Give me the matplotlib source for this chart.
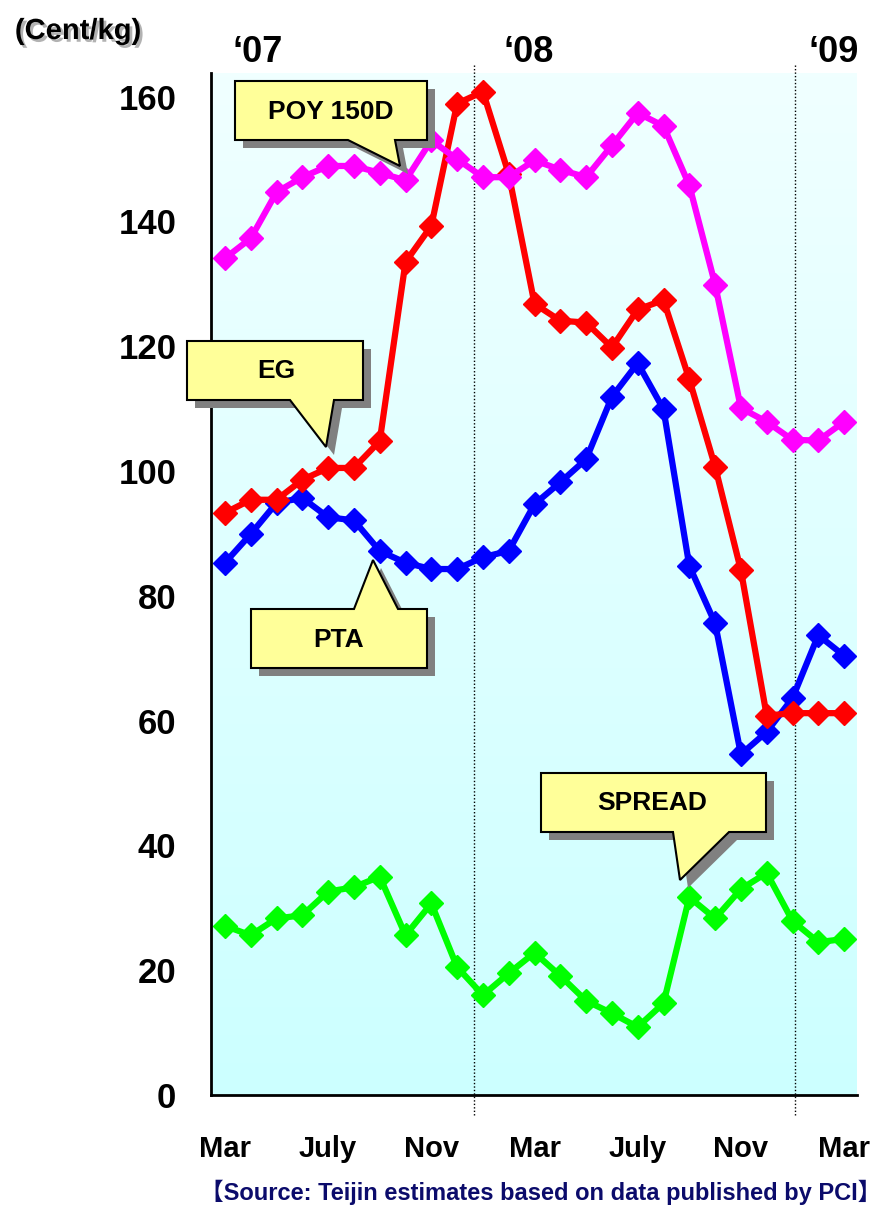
import numpy as np
import matplotlib
matplotlib.use("Agg")
import matplotlib.pyplot as plt
import matplotlib.patheffects as pe
from matplotlib.patches import Polygon
from matplotlib.colors import LinearSegmentedColormap

# monthly prices, Mar '07 .. Mar '09 (Cent/kg)
months = ["Mar", "Apr", "May", "Jun", "Jul", "Aug", "Sep", "Oct", "Nov", "Dec",
          "Jan", "Feb", "Mar", "Apr", "May", "Jun", "Jul", "Aug", "Sep", "Oct",
          "Nov", "Dec", "Jan", "Feb", "Mar"]
poy = [134.1, 137.3, 144.7, 147.1, 148.9, 148.9, 147.8, 146.6, 153.0, 150.0,
       147.1, 147.1, 149.8, 148.3, 147.1, 152.2, 157.4, 155.3, 145.8, 129.9,
       110.1, 107.9, 105.0, 104.9, 107.9]
eg = [93.3, 95.4, 95.4, 98.6, 100.5, 100.5, 104.8, 133.5, 139.3, 158.9,
      160.8, 147.6, 126.8, 124.1, 123.8, 119.8, 125.9, 127.4, 114.7, 100.7,
      84.1, 60.8, 61.2, 61.2, 61.2]
pta = [85.3, 89.9, 94.9, 95.7, 92.6, 92.1, 87.2, 85.3, 84.3, 84.3,
       86.2, 87.2, 94.7, 98.2, 101.9, 111.9, 117.3, 109.9, 84.8, 75.6,
       54.6, 58.2, 63.6, 73.7, 70.4]
spread = [27.1, 25.6, 28.3, 28.8, 32.6, 33.3, 35.0, 25.6, 30.7, 20.5,
          16.0, 19.5, 22.8, 19.1, 15.1, 13.1, 10.9, 14.7, 31.7, 28.3,
          33.0, 35.6, 27.9, 24.5, 25.0]
tick_pos = [0, 4, 8, 12, 16, 20, 24]
tick_labels = ["Mar", "July", "Nov", "Mar", "July", "Nov", "Mar"]
years = ["\u201807", "\u201808", "\u201809"]

plt.rcParams["font.family"] = ["Liberation Sans", "DejaVu Sans"]

W, H = 882, 1208
fig = plt.figure(figsize=(W / 100, H / 100), dpi=100)
ax = fig.add_axes([211 / W, 1 - 1095 / H, (857 - 211) / W, (1095 - 73) / H])

x = np.arange(len(months))
ax.set_xlim(-0.54, 24.5)
ax.set_ylim(0, 163.8)

# light cyan gradient background
cmap = LinearSegmentedColormap.from_list("bg", ["#CCFFFF", "#F0FFFF"])
ax.imshow(np.linspace(0, 1, 256)[:, None], cmap=cmap, origin="lower",
          extent=[0, 1, 0, 1], transform=ax.transAxes, aspect="auto", zorder=0)

# year dividers
for xv in [9.65, 22.1]:
    ax.plot([xv, xv], [-0.02, 1.01], transform=ax.get_xaxis_transform(),
            clip_on=False, color="black", lw=1, ls=(0, (1, 1.5)), zorder=1)

style = dict(lw=4.5, marker="D", markersize=12, clip_on=False)
ax.plot(x, spread, color="#00FF00", zorder=2, **style)
ax.plot(x, pta, color="#0000FF", zorder=3, **style)
ax.plot(x, eg, color="#FF0000", zorder=4, **style)
ax.plot(x, poy, color="#FF00FF", zorder=5, **style)

for s in ["top", "right"]:
    ax.spines[s].set_visible(False)
for s in ["left", "bottom"]:
    ax.spines[s].set_linewidth(2)
ax.set_yticks(range(0, 161, 20))
ax.set_xticks(tick_pos)
ax.set_xticklabels(tick_labels)
ax.tick_params(axis="y", length=0, pad=25, labelsize=25)
ax.tick_params(axis="x", length=0, pad=29, labelsize=21)
for lab in ax.get_xticklabels() + ax.get_yticklabels():
    lab.set_fontweight("bold")


def fx(px, py):
    return px / W, 1 - py / H


def callout(pts, text, tx, ty):
    sh = [fx(px + 8, py + 8) for px, py in pts]
    fig.patches.append(Polygon(sh, closed=True, transform=fig.transFigure,
                               facecolor="#808080", edgecolor="none", zorder=6))
    fig.patches.append(Polygon([fx(px, py) for px, py in pts], closed=True,
                               transform=fig.transFigure, facecolor="#FFFF99",
                               edgecolor="black", lw=1.5, zorder=7))
    fig.text(*fx(tx, ty), text, ha="center", va="center", fontsize=19,
             fontweight="bold", zorder=8)


callout([(235, 81), (427, 81), (427, 140), (395, 140), (400, 166), (348, 140), (235, 140)],
        "POY 150D", 331, 112)
callout([(187, 341), (363, 341), (363, 400), (334, 400), (326, 447), (290, 400), (187, 400)],
        "EG", 276, 371)
callout([(251, 609), (354, 609), (373, 560), (398, 609), (427, 609), (427, 668), (251, 668)],
        "PTA", 339, 640)
callout([(541, 773), (766, 773), (766, 832), (729, 832), (680, 880), (673, 832), (541, 832)],
        "SPREAD", 652, 803)

# unit, year labels, source
fig.text(*fx(78, 31), "(Cent/kg)", ha="center", va="center", fontsize=21,
         fontweight="bold",
         path_effects=[pe.withSimplePatchShadow(offset=(2, -2), shadow_rgbFace="gray", alpha=0.6)])
for xp, yl in zip([258, 529, 834], years):
    fig.text(*fx(xp, 52), yl, ha="center", va="center", fontsize=26, fontweight="bold")
fig.text(*fx(541, 1192), "\u3010Source: Teijin estimates based on data published by PCI\u3011",
         ha="center", va="center", fontsize=17, fontweight="bold", color="#0B0B6B",
         family=["Liberation Sans", "Noto Sans CJK JP"])

fig.savefig("out.png", dpi=100)
